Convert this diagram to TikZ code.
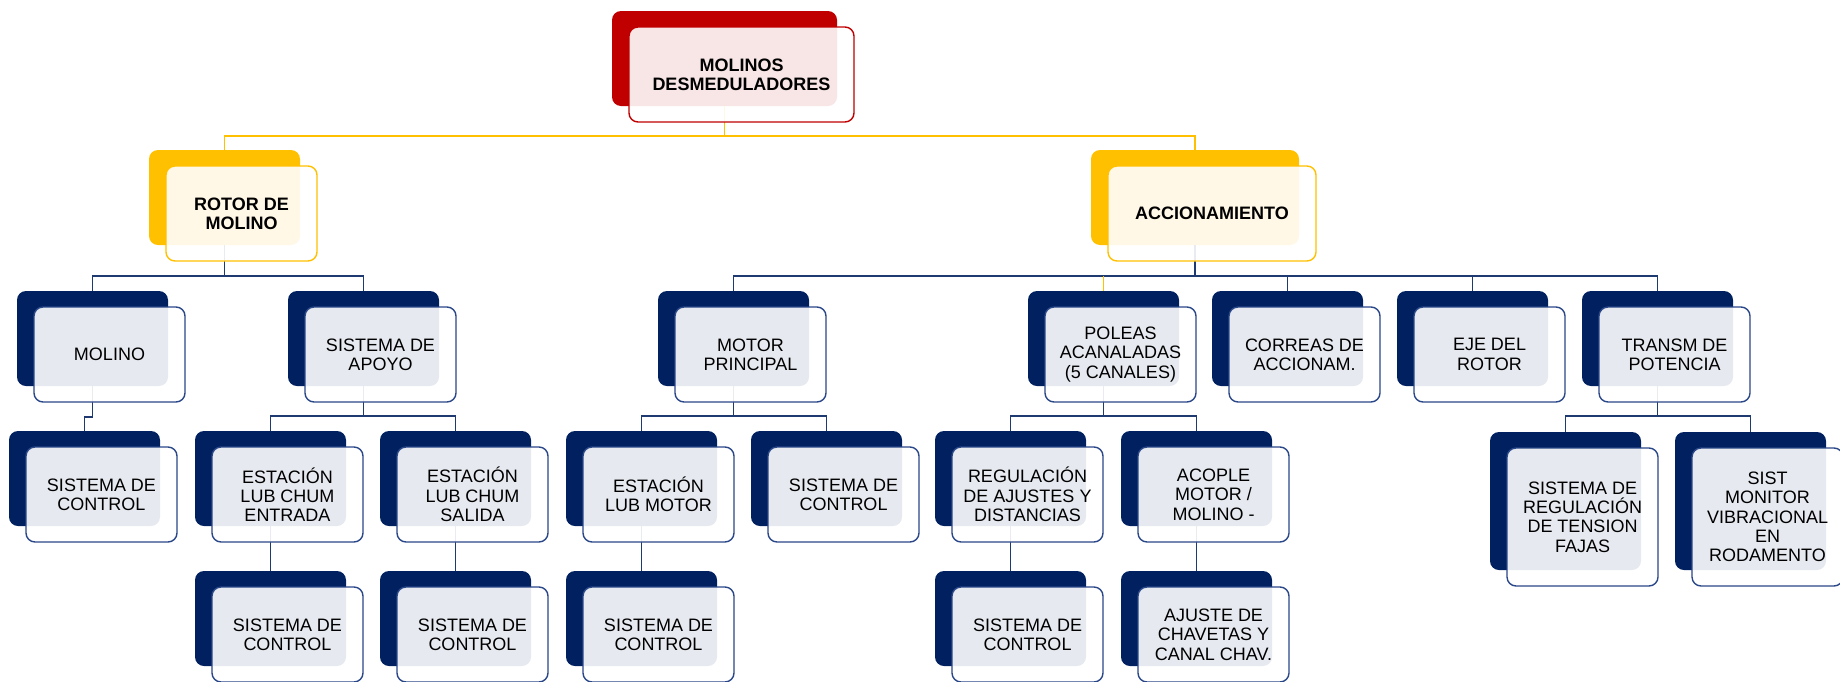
\documentclass[tikz,border=0pt]{standalone}
\usepackage{fontspec}
\setmainfont{Liberation Sans}
\usetikzlibrary{calc}
\definecolor{navy}{HTML}{002060}
\definecolor{navyline}{HTML}{2A4788}
\definecolor{connB}{HTML}{1F3A70}
\definecolor{redb}{HTML}{C00000}
\definecolor{yelb}{HTML}{FFC000}
\pgfdeclarelayer{bg}
\pgfsetlayers{bg,main}
\tikzset{
  boxbase/.style={inner sep=0pt, outer sep=0pt, rounded corners=9pt},
  backblu/.style={boxbase, fill=navy},
  backred/.style={boxbase, fill=redb},
  backyel/.style={boxbase, fill=yelb},
  frontbase/.style={boxbase, fill=white, fill opacity=0.9, text opacity=1, line width=1.4pt,
    align=center, text=black, font=\fontsize{18}{19.3}\selectfont},
  frontblu/.style={frontbase, draw=navyline},
  frontred/.style={frontbase, draw=redb, font=\fontsize{18}{19.3}\selectfont\bfseries},
  frontyel/.style={frontbase, draw=yelb, font=\fontsize{18}{19.3}\selectfont\bfseries},
  linkB/.style={draw=connB, line width=1.6pt},
  linkY/.style={draw=yelb, line width=1.6pt},
}
\newcommand\frontbox[5]{%
  \node[front#4, minimum width=#2pt, minimum height=#3pt, anchor=north west] (#1) at ([shift={(17,16)}]#1b.north west) {#5};}
\begin{document}
\begin{tikzpicture}[x=1pt,y=-1pt]
\useasboundingbox (0,0) rectangle (1840,681);
\coordinate (bus0) at (0,136);
\coordinate (bus1) at (0,276);
\coordinate (bus2) at (0,416);
\begin{pgfonlayer}{bg}
\node[backred, minimum width=225pt, minimum height=95pt, anchor=north west] (topb) at (612,11) {};
\node[backyel, minimum width=151pt, minimum height=95pt, anchor=north west] (rotorb) at (149,150) {};
\node[backyel, minimum width=208pt, minimum height=95pt, anchor=north west] (accionb) at (1091,150) {};
\foreach \n/\x in {molino/17, apoyo/288, motor/658, poleas/1028, correas/1212, eje/1397, transm/1582}
  \node[backblu, minimum width=151pt, minimum height=95pt, anchor=north west] (\n b) at (\x,291) {};
\foreach \n/\x in {ctrla/9, entrada/195, salida/380, lubmotor/566, ctrlm/751, regul/935, acople/1121}
  \node[backblu, minimum width=151pt, minimum height=95pt, anchor=north west] (\n b) at (\x,431) {};
\foreach \n/\x in {tension/1490, monitor/1675}
  \node[backblu, minimum width=151pt, minimum height=138pt, anchor=north west] (\n b) at (\x,432) {};
\foreach \n/\x in {ctrle/195, ctrls/380, ctrll/566, ctrlr/935, ajuste/1121}
  \node[backblu, minimum width=151pt, minimum height=95pt, anchor=north west] (\n b) at (\x,571) {};
% connectors
\draw[linkY] (topb.south) -- (topb.south |- bus0) -| (rotorb.north);
\draw[linkY] (topb.south |- bus0) -| (accionb.north);
\draw[linkB] (rotorb.south) -- (rotorb.south |- bus1);
\draw[linkB] (molinob.north) |- (apoyob.north |- bus1) -- (apoyob.north);
\draw[linkB] (accionb.south) -- (accionb.south |- bus1);
\draw[linkB] (motorb.north) |- (transmb.north |- bus1) -- (transmb.north);
\draw[linkB] (correasb.north) -- (correasb.north |- bus1);
\draw[linkB] (ejeb.north) -- (ejeb.north |- bus1);
\draw[linkY] (poleasb.north |- bus1) -- (poleasb.north);
\draw[linkB] (molinob.south) -- ++(0,31) -| (ctrlab.north);
\draw[linkB] (apoyob.south) -- (apoyob.south |- bus2);
\draw[linkB] (entradab.north) |- (salidab.north |- bus2) -- (salidab.north);
\draw[linkB] (motorb.south) -- (motorb.south |- bus2);
\draw[linkB] (lubmotorb.north) |- (ctrlmb.north |- bus2) -- (ctrlmb.north);
\draw[linkB] (poleasb.south) -- (poleasb.south |- bus2);
\draw[linkB] (regulb.north) |- (acopleb.north |- bus2) -- (acopleb.north);
\draw[linkB] (transmb.south) -- (transmb.south |- bus2);
\draw[linkB] (tensionb.north) |- (monitorb.north |- bus2) -- (monitorb.north);
\draw[linkB] (entradab.south) -- (ctrleb.north);
\draw[linkB] (salidab.south) -- (ctrlsb.north);
\draw[linkB] (lubmotorb.south) -- (ctrllb.north);
\draw[linkB] (regulb.south) -- (ctrlrb.north);
\draw[linkB] (acopleb.south) -- (ajusteb.north);
\end{pgfonlayer}
% front boxes
\frontbox{top}{225}{95}{red}{MOLINOS\\DESMEDULADORES}
\frontbox{rotor}{151}{95}{yel}{ROTOR DE\\MOLINO}
\frontbox{accion}{208}{95}{yel}{ACCIONAMIENTO}
\frontbox{molino}{151}{95}{blu}{MOLINO}
\frontbox{apoyo}{151}{95}{blu}{SISTEMA DE\\APOYO}
\frontbox{motor}{151}{95}{blu}{MOTOR\\PRINCIPAL}
\frontbox{poleas}{151}{95}{blu}{POLEAS\\ACANALADAS\\(5 CANALES)}
\frontbox{correas}{151}{95}{blu}{CORREAS DE\\ACCIONAM.}
\frontbox{eje}{151}{95}{blu}{EJE DEL\\ROTOR}
\frontbox{transm}{151}{95}{blu}{TRANSM DE\\POTENCIA}
\frontbox{ctrla}{151}{95}{blu}{SISTEMA DE\\CONTROL}
\frontbox{entrada}{151}{95}{blu}{ESTACIÓN\\LUB CHUM\\ENTRADA}
\frontbox{salida}{151}{95}{blu}{ESTACIÓN\\LUB CHUM\\SALIDA}
\frontbox{lubmotor}{151}{95}{blu}{ESTACIÓN\\LUB MOTOR}
\frontbox{ctrlm}{151}{95}{blu}{SISTEMA DE\\CONTROL}
\frontbox{regul}{151}{95}{blu}{REGULACIÓN\\DE AJUSTES Y\\DISTANCIAS}
\frontbox{acople}{151}{95}{blu}{ACOPLE\\MOTOR /\\MOLINO -}
\frontbox{tension}{151}{138}{blu}{SISTEMA DE\\REGULACIÓN\\DE TENSION\\FAJAS}
\frontbox{monitor}{151}{138}{blu}{SIST\\MONITOR\\VIBRACIONAL\\EN\\RODAMENTO}
\frontbox{ctrle}{151}{95}{blu}{SISTEMA DE\\CONTROL}
\frontbox{ctrls}{151}{95}{blu}{SISTEMA DE\\CONTROL}
\frontbox{ctrll}{151}{95}{blu}{SISTEMA DE\\CONTROL}
\frontbox{ctrlr}{151}{95}{blu}{SISTEMA DE\\CONTROL}
\frontbox{ajuste}{151}{95}{blu}{AJUSTE DE\\CHAVETAS Y\\CANAL CHAV.}
\end{tikzpicture}
\end{document}
